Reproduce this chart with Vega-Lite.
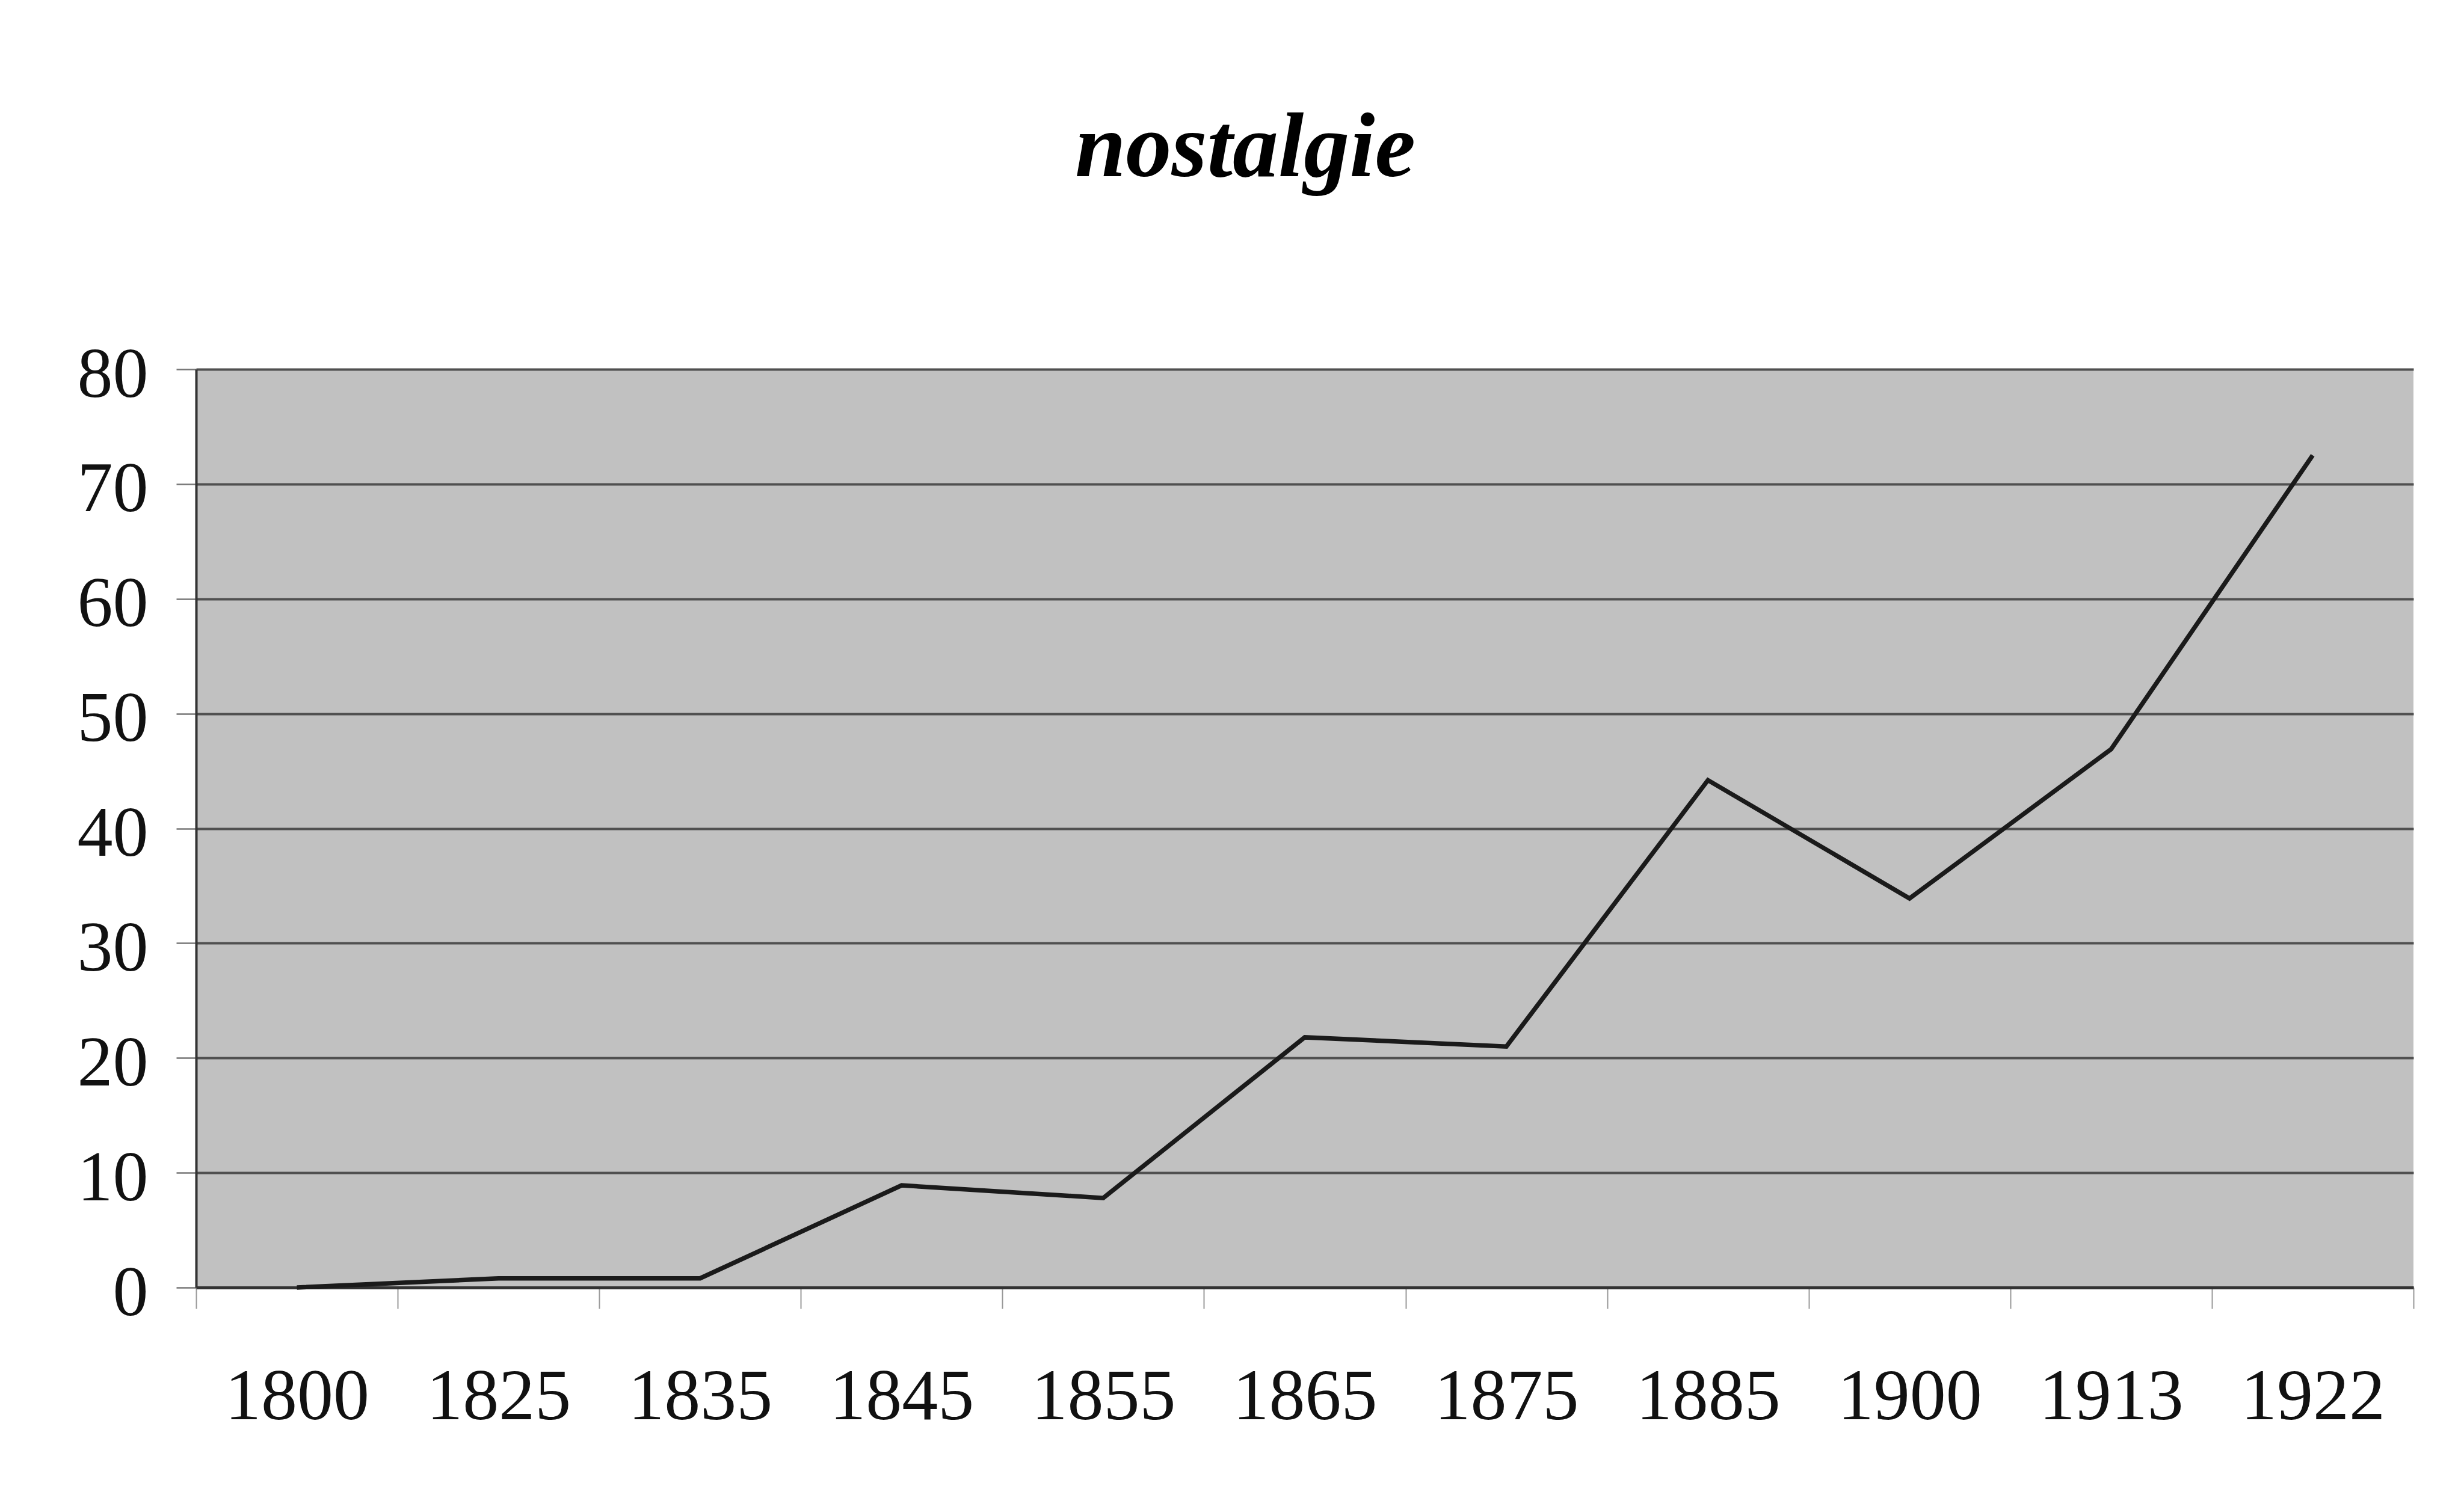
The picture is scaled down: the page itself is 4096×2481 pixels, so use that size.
{
  "$schema": "https://vega.github.io/schema/vega-lite/v6.json",
  "autosize": {"type": "none"},
  "padding": {"left": 326, "top": 614, "right": 84, "bottom": 340},
  "width": 3686,
  "height": 1527,
  "background": "white",
  "title": {
    "text": "nostalgie",
    "font": "Liberation Serif",
    "fontSize": 152,
    "fontWeight": "bold",
    "fontStyle": "italic",
    "color": "#000000",
    "anchor": "middle",
    "frame": "group",
    "baseline": "alphabetic",
    "offset": 120,
    "dx": -99
  },
  "data": {
    "values": [
      {"year": "1800", "value": 0},
      {"year": "1825", "value": 0.8},
      {"year": "1835", "value": 0.8},
      {"year": "1845", "value": 8.9},
      {"year": "1855", "value": 7.8},
      {"year": "1865", "value": 21.8},
      {"year": "1875", "value": 21.0},
      {"year": "1885", "value": 44.2},
      {"year": "1900", "value": 33.9},
      {"year": "1913", "value": 46.9},
      {"year": "1922", "value": 72.5}
    ]
  },
  "mark": {"type": "line", "color": "#1a1a1a", "strokeWidth": 7.5, "strokeJoin": "miter"},
  "encoding": {
    "x": {
      "field": "year",
      "type": "ordinal",
      "sort": null,
      "bandPosition": 0.5,
      "scale": {"type": "band", "paddingInner": 0, "paddingOuter": 0},
      "axis": {
        "title": null,
        "labelAngle": 0,
        "labelFont": "Liberation Serif",
        "labelFontSize": 120,
        "labelColor": "#111111",
        "labelBaseline": "alphabetic",
        "labelPadding": 183,
        "labelLimit": 0,
        "labelOverlap": false,
        "tickBand": "extent",
        "tickSize": 35,
        "tickColor": "#999999",
        "tickWidth": 2,
        "domain": true,
        "domainColor": "#333333",
        "domainWidth": 5,
        "grid": false
      }
    },
    "y": {
      "field": "value",
      "type": "quantitative",
      "scale": {"domain": [0, 80], "nice": false, "zero": true},
      "axis": {
        "title": null,
        "values": [0, 10, 20, 30, 40, 50, 60, 70, 80],
        "labelFont": "Liberation Serif",
        "labelFontSize": 118,
        "labelColor": "#111111",
        "labelPadding": 47,
        "labelBaseline": "middle",
        "labelOffset": 10,
        "labelLimit": 0,
        "tickSize": 33,
        "tickColor": "#777777",
        "tickWidth": 2.5,
        "grid": true,
        "gridColor": "#505050",
        "gridWidth": 4,
        "domain": true,
        "domainColor": "#333333",
        "domainWidth": 4
      }
    }
  },
  "config": {
    "view": {"fill": "#c1c1c1", "stroke": null}
  }
}
